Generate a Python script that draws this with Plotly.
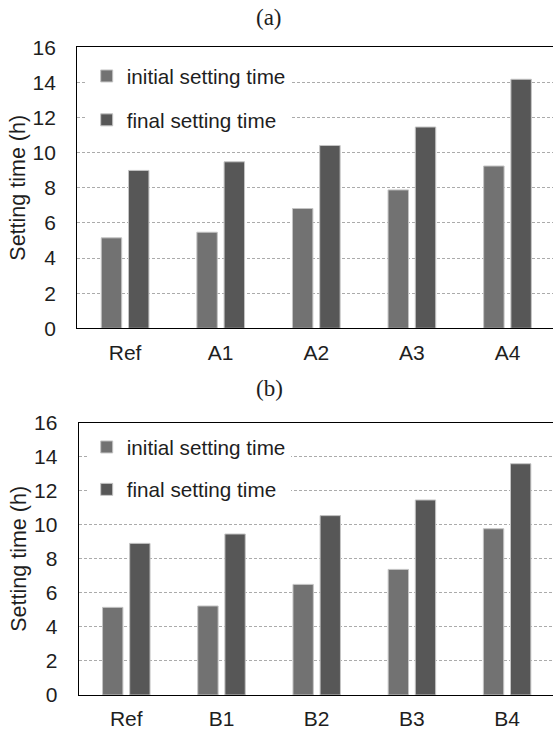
import plotly.graph_objects as go

# ---- data ----
cats_a = ["Ref", "A1", "A2", "A3", "A4"]
initial_a = [5.15, 5.47, 6.82, 7.88, 9.24]
final_a = [8.99, 9.48, 10.41, 11.46, 14.18]

cats_b = ["Ref", "B1", "B2", "B3", "B4"]
initial_b = [5.15, 5.23, 6.50, 7.38, 9.77]
final_b = [8.91, 9.46, 10.54, 11.46, 13.59]

series_names = ["initial setting time", "final setting time"]
y_ticks = [0, 2, 4, 6, 8, 10, 12, 14, 16]
panel_titles = ["(a)", "(b)"]

# ---- style ----
W, H = 553, 734
C_INIT = "#727272"
C_FINAL = "#575757"
EDGE = "#c4c4c4"
TXT = "#1e1e1e"
FONT = "Liberation Sans, Arial, sans-serif"

fig = go.Figure()

def add_panel(cats, ini, fin, xa, ya, leg):
    fig.add_trace(go.Bar(x=cats, y=ini, name=series_names[0], xaxis=xa, yaxis=ya,
                         marker=dict(color=C_INIT, line=dict(color=EDGE, width=1)),
                         legend=leg, legendgroup=leg + "i"))
    fig.add_trace(go.Bar(x=cats, y=fin, name=series_names[1], xaxis=xa, yaxis=ya,
                         marker=dict(color=C_FINAL, line=dict(color=EDGE, width=1)),
                         legend=leg, legendgroup=leg + "f"))

add_panel(cats_a, initial_a, final_a, "x", "y", "legend")
add_panel(cats_b, initial_b, final_b, "x2", "y2", "legend2")

def px_x(p):
    return p / W

def px_y(p):
    return 1 - p / H

xaxis_common = dict(
    type="category", showline=True, linecolor="black", linewidth=1.3, mirror=True,
    showgrid=False, ticks="", tickfont=dict(family=FONT, size=21, color=TXT),
    ticklabelstandoff=5, automargin=False, fixedrange=True,
)
yaxis_common = dict(
    range=[0, 16], tickvals=y_ticks, showline=True, linecolor="black", linewidth=1.3,
    showgrid=True, gridcolor="#ababab", gridwidth=1, griddash="3px,2px",
    zeroline=False, ticks="", tickfont=dict(family=FONT, size=21, color=TXT),
    ticklabelstandoff=16, automargin=False, fixedrange=True,
    title=dict(text="Setting time (h)", font=dict(family=FONT, size=21.5, color=TXT), standoff=1),
)

fig.update_layout(
    width=W, height=H,
    margin=dict(l=0, r=0, t=0, b=0),
    paper_bgcolor="white", plot_bgcolor="white",
    barmode="group", bargap=0.43, bargroupgap=0.25,
    xaxis=dict(xaxis_common, domain=[px_x(77.3), 1], anchor="y", range=[-0.5, 4.476]),
    yaxis=dict(yaxis_common, domain=[px_y(328.3), px_y(47.3)], anchor="x"),
    xaxis2=dict(xaxis_common, domain=[px_x(78.7), 1], anchor="y2", range=[-0.5, 4.482]),
    yaxis2=dict(yaxis_common, domain=[px_y(695), px_y(422.7)], anchor="x2"),
    legend=dict(x=px_x(86.7), y=px_y(56), xanchor="left", yanchor="top",
                bgcolor="white", font=dict(family=FONT, size=20.7, color=TXT),
                tracegroupgap=14, traceorder="grouped"),
    legend2=dict(x=px_x(86.7), y=px_y(427), xanchor="left", yanchor="top",
                 bgcolor="white", font=dict(family=FONT, size=20.7, color=TXT),
                 tracegroupgap=12.5, traceorder="grouped"),
    showlegend=True,
)

for title, ypix in zip(panel_titles, [17.3, 388.3]):
    fig.add_annotation(text=title, x=px_x(269), y=px_y(ypix), xref="paper", yref="paper",
                       xanchor="center", yanchor="middle", showarrow=False,
                       font=dict(family="Liberation Serif, Times New Roman, serif", size=23, color=TXT))

fig.write_html("out.html")
